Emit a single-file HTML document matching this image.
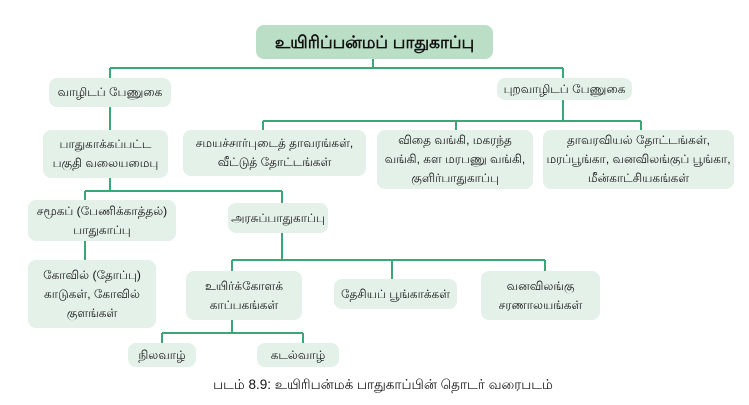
<!DOCTYPE html>
<html><head><meta charset="utf-8"><style>
body{margin:0;width:749px;height:405px;background:#fff;position:relative;overflow:hidden;font-family:"Liberation Sans","Noto Sans CJK JP",sans-serif;color:#111}
.b{position:absolute;background:#e4f1e8;border-radius:8px;display:flex;align-items:center;justify-content:center;text-align:center;font-size:12px;line-height:19px;box-sizing:border-box}
svg{position:absolute;left:0;top:0}
</style></head><body>
<svg width="749" height="405"><g stroke="#3aa876" stroke-width="2" fill="none">
<path d="M373 59V68M110 68H563M110 68V78M563 68V78"/>
<path d="M563 100V121M263 121H641M263 121V130M456 121V130M641 121V130"/>
<path d="M110 107V130M110 178V191M85 191H282M85 191V200M282 191V203"/>
<path d="M85 241V260M282 233V260M232 260H545M232 260V271M392 260V279M545 260V271"/>
<path d="M232 320V333M162 333H303M162 333V343M303 333V343"/>
</g></svg>
<div class="b" style="left:256px;top:25px;width:237px;height:34px;background:#bbdfc6;font-size:17px;font-weight:bold">உயிரிப்பன்மப் பாதுகாப்பு</div>
<div class="b" style="left:49px;top:78px;width:122px;height:29px">வாழிடப் பேணுகை</div>
<div class="b" style="left:497px;top:78px;width:135px;height:22px">புறவாழிடப் பேணுகை</div>
<div class="b" style="left:183px;top:130px;width:183px;height:46px">சமயச்சார்புடைத் தாவரங்கள்,<br>வீட்டுத் தோட்டங்கள்</div>
<div class="b" style="left:377px;top:130px;width:156px;height:59px">விதை வங்கி, மகரந்த<br>வங்கி, கள மரபணு வங்கி,<br>குளிர்பாதுகாப்பு</div>
<div class="b" style="left:543px;top:130px;width:191px;height:59px">தாவரவியல் தோட்டங்கள்,<br>மரப்பூங்கா, வனவிலங்குப் பூங்கா,<br>மீன்காட்சியகங்கள்</div>
<div class="b" style="left:43px;top:130px;width:125px;height:48px">பாதுகாக்கப்பட்ட<br>பகுதி வலையமைபு</div>
<div class="b" style="left:28px;top:200px;width:148px;height:41px">சமூகப் (பேணிக்காத்தல்)<br>பாதுகாப்பு</div>
<div class="b" style="left:228px;top:203px;width:100px;height:30px">அரசுப்பாதுகாப்பு</div>
<div class="b" style="left:28px;top:260px;width:128px;height:68px">கோவில் (தோப்பு)<br>காடுகள், கோவில்<br>குளங்கள்</div>
<div class="b" style="left:186px;top:271px;width:116px;height:49px">உயிர்க்கோளக்<br>காப்பகங்கள்</div>
<div class="b" style="left:334px;top:279px;width:123px;height:30px">தேசியப் பூங்காக்கள்</div>
<div class="b" style="left:481px;top:271px;width:119px;height:49px">வனவிலங்கு<br>சரணாலயங்கள்</div>
<div class="b" style="left:128px;top:343px;width:68px;height:24px">நிலவாழ்</div>
<div class="b" style="left:257px;top:343px;width:82px;height:24px">கடல்வாழ்</div>
<div style="position:absolute;left:200px;top:376px;width:366px;text-align:center;font-size:13.5px;line-height:18px">படம் 8.9: உயிரிபன்மக் பாதுகாப்பின் தொடர் வரைபடம்</div>
</body></html>
